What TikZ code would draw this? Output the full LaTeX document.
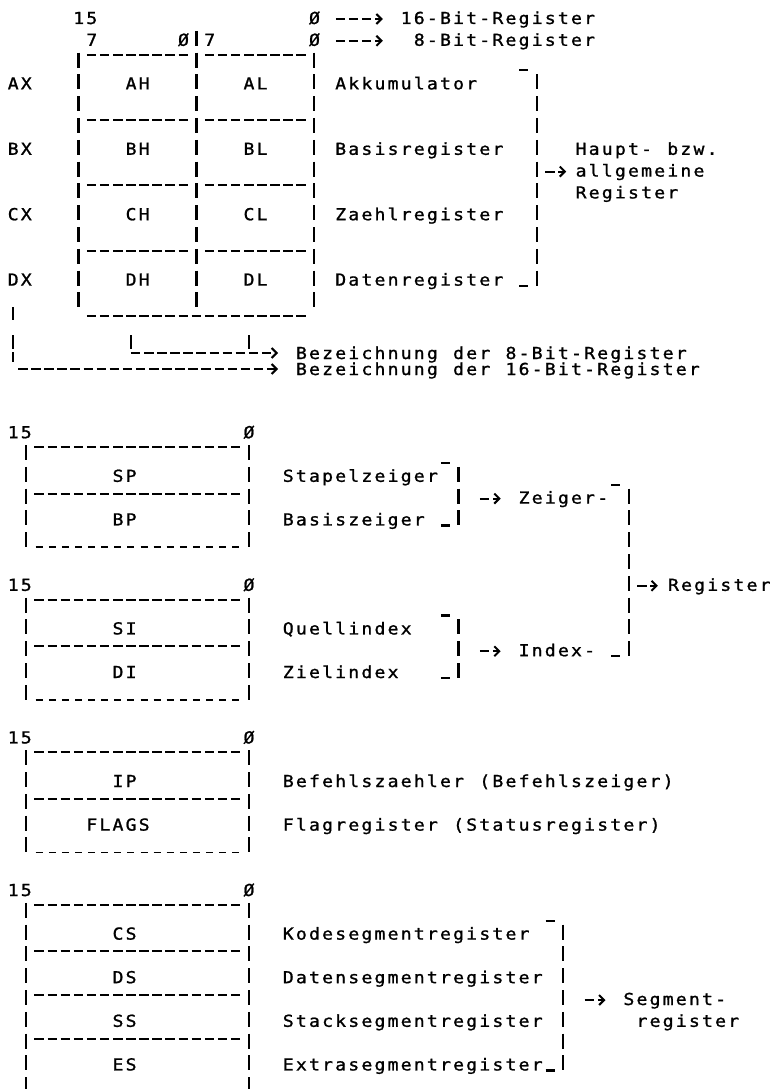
\documentclass[tikz,border=0pt]{standalone}
\usepackage{fontspec}
\usetikzlibrary{arrows.meta}
\newfontfamily\pf{DejaVu Sans Mono}[FakeStretch=1.1,FakeBold=1.2]
\newdimen\cw \cw=13.1pt
\ExplSyntaxOn
\cs_new_protected:Npn \mytt #1
  { \str_map_inline:nn {#1} { \hbox_to_wd:nn { \cw } { \hss ##1 \hss } } }
\ExplSyntaxOff
\newcommand\Lab[5][lbl]{\node[#1] (#2) at ({cx(#3)-6.55},{ry(#4)+6}) {\mytt{#5}};}
\newcommand\Vb[2]{\draw[bar] ({cx(#1)},{ry(#2)-9}) -- ({cx(#1)},{ry(#2)+6});}
\newcommand\Hd[3]{\draw[hd] ({cx(#1)-4.75},{#3}) -- ({cx(#2)+4.75},{#3});}
\newcommand\Ud[3]{\draw[ud] ({cx(#1)-3.5},{#3}) -- ({cx(#2)+3.5},{#3});}
\newcommand\Mk[2]{\draw[bar] ({cx(#1)-4.5},{#2}) -- ({cx(#1)+4.5},{#2});}
\newcommand\Ar[3]{\draw[darr] ({cx(#1)-4.75},{ry(#3)+1}) -- ({cx(#2)+3},{ry(#3)+1});}
\begin{document}
\begin{tikzpicture}[x=1pt,y=-1pt,
 declare function={cx(\c)=13+13.1*\c; ry(\r)=18+21.8*(\r-1);},
 lbl/.style={font=\pf\fontsize{16.5pt}{18pt}\selectfont, inner sep=0pt, anchor=base west, text=black},
 bar/.style={line width=2.2pt},
 hd/.style={line width=2pt, dash pattern=on 9.5pt off 3.6pt},
 ud/.style={line width=1.8pt, dash pattern=on 7pt off 6.1pt},
 darr/.style={line width=2pt, dash pattern=on 9.5pt off 3.6pt, -{Straight Barb[length=5pt,width=10pt]}},
]
\fill[white] (0,0) rectangle (781,1089);
\useasboundingbox (0,0) rectangle (781,1089);

% ---- header of the general registers
\Lab{h15a}{5}{1}{15}
\Lab{z1}{23}{1}{Ø}
\Lab{t16}{30}{1}{16-Bit-Register}
\Lab{h7a}{6}{2}{7}
\Lab{z2}{13}{2}{Ø}
\Vb{14}{2}
\Lab{h7b}{15}{2}{7}
\Lab{z3}{23}{2}{Ø}
\Lab{t8}{31}{2}{8-Bit-Register}
\Ar{25}{28}{1}
\Ar{25}{28}{2}

% ---- general register box
\foreach \r in {3,...,14}{\Vb{5}{\r}\Vb{14}{\r}\Vb{23}{\r}}
\foreach \r in {3,6,9,12}{\Hd{6}{13}{ry(\r)-7}\Hd{15}{22}{ry(\r)-7}}
\Hd{6}{22}{ry(15)-7}

\Lab{ax}{0}{4}{AX}  \Lab{ah}{9}{4}{AH}  \Lab{al}{18}{4}{AL}  \Lab{akk}{25}{4}{Akkumulator}
\Lab{bx}{0}{7}{BX}  \Lab{bh}{9}{7}{BH}  \Lab{bl}{18}{7}{BL}  \Lab{bas}{25}{7}{Basisregister}
\Lab{cxn}{0}{10}{CX} \Lab{ch}{9}{10}{CH} \Lab{cl}{18}{10}{CL} \Lab{zae}{25}{10}{Zaehlregister}
\Lab{dx}{0}{13}{DX}  \Lab{dh}{9}{13}{DH} \Lab{dl}{18}{13}{DL} \Lab{dat}{25}{13}{Datenregister}

% bracket: Haupt- bzw. allgemeine Register
\foreach \r in {4,...,13}{\Vb{40}{\r}}
\Mk{39}{ry(4)-13}
\Mk{39}{ry(13)+6}
\Lab{hau}{43.35}{7}{Haupt- bzw.}
\Lab{allg}{43.35}{8}{allgemeine}
\Lab{reg1}{43.35}{9}{Register}
\Ar{41}{42}{8}

% designation lines
\draw[bar] ({cx(9)},335) -- ({cx(9)},349);
\draw[bar] ({cx(18)},335) -- ({cx(18)},349);
\draw[bar] ({cx(0)},307) -- ({cx(0)},320);
\draw[bar] ({cx(0)},335) -- ({cx(0)},349);
\draw[bar] ({cx(0)},352) -- ({cx(0)},362);
\node[lbl] (b8) at ({cx(22)-6.55},359) {\mytt{Bezeichnung der 8-Bit-Register}};
\node[lbl] (b16) at ({cx(22)-6.55},375) {\mytt{Bezeichnung der 16-Bit-Register}};
\draw[darr] ({cx(9)},353) -- ({cx(20)+3},353);
\draw[darr] ({cx(0)+5},369) -- ({cx(20)+3},369);

% ---- pointer registers
\Lab{p15}{0}{20}{15} \Lab{p0}{18}{20}{Ø}
\foreach \r in {21,...,25}{\Vb{1}{\r}\Vb{18}{\r}}
\Hd{2}{17}{ry(21)-7} \Hd{2}{17}{ry(23)-4} \Ud{2}{17}{ry(25)+6}
\Lab{sp}{8}{22}{SP} \Lab{stz}{21}{22}{Stapelzeiger}
\Lab{bp}{8}{24}{BP} \Lab{bsz}{21}{24}{Basiszeiger}

% ---- index registers
\Lab{i15}{0}{27}{15} \Lab{i0}{18}{27}{Ø}
\foreach \r in {28,...,32}{\Vb{1}{\r}\Vb{18}{\r}}
\Hd{2}{17}{ry(28)-7} \Hd{2}{17}{ry(30)-4} \Ud{2}{17}{ry(32)+6}
\Lab{si}{8}{29}{SI} \Lab{qix}{21}{29}{Quellindex}
\Lab{di}{8}{31}{DI} \Lab{zix}{21}{31}{Zielindex}

% brackets Zeiger / Index / Register
\foreach \r in {22,23,24}{\Vb{34}{\r}}
\Mk{33}{ry(22)-13} \Mk{33}{ry(24)+6}
\Ar{36}{37}{23}
\Lab{zei}{39}{23}{Zeiger-}
\Mk{46}{ry(23)-13}
\foreach \r in {29,30,31}{\Vb{34}{\r}}
\Mk{33}{ry(29)-13} \Mk{33}{ry(31)+6}
\Ar{36}{37}{30}
\Lab{idx}{39}{30}{Index-}
\Mk{46}{ry(30)+6}
\foreach \r in {23,...,30}{\Vb{47}{\r}}
\Ar{48}{49}{27}
\Lab{reg2}{50.4}{27}{Register}

% ---- IP / FLAGS
\Lab{f15}{0}{34}{15} \Lab{f0}{18}{34}{Ø}
\foreach \r in {35,...,39}{\Vb{1}{\r}\Vb{18}{\r}}
\Hd{2}{17}{ry(35)-7} \Hd{2}{17}{ry(37)-4} \Ud{2}{17}{ry(39)+6}
\Lab{ip}{8}{36}{IP} \Lab{bfz}{21}{36}{Befehlszaehler (Befehlszeiger)}
\Lab{flg}{6}{38}{FLAGS} \Lab{flr}{21}{38}{Flagregister (Statusregister)}

% ---- segment registers
\Lab{s15}{0}{41}{15} \Lab{s0}{18}{41}{Ø}
\foreach \r in {42,...,50}{\Vb{1}{\r}\Vb{18}{\r}}
\Hd{2}{17}{ry(42)-7}
\foreach \r in {44,46,48}{\Hd{2}{17}{ry(\r)-4}}
\Lab{cs}{8}{43}{CS} \Lab{kod}{21}{43}{Kodesegmentregister}
\Lab{ds}{8}{45}{DS} \Lab{dsr}{21}{45}{Datensegmentregister}
\Lab{ss}{8}{47}{SS} \Lab{ssr}{21}{47}{Stacksegmentregister}
\Lab{es}{8}{49}{ES} \Lab{esr}{21}{49}{Extrasegmentregister}
\foreach \r in {43,...,49}{\Vb{42}{\r}}
\Mk{41}{ry(43)-13} \Mk{41}{ry(49)+6}
\Ar{44}{45}{46}
\Lab{seg}{47}{46}{Segment-}
\Lab{segr}{48}{47}{register}
\end{tikzpicture}
\end{document}
